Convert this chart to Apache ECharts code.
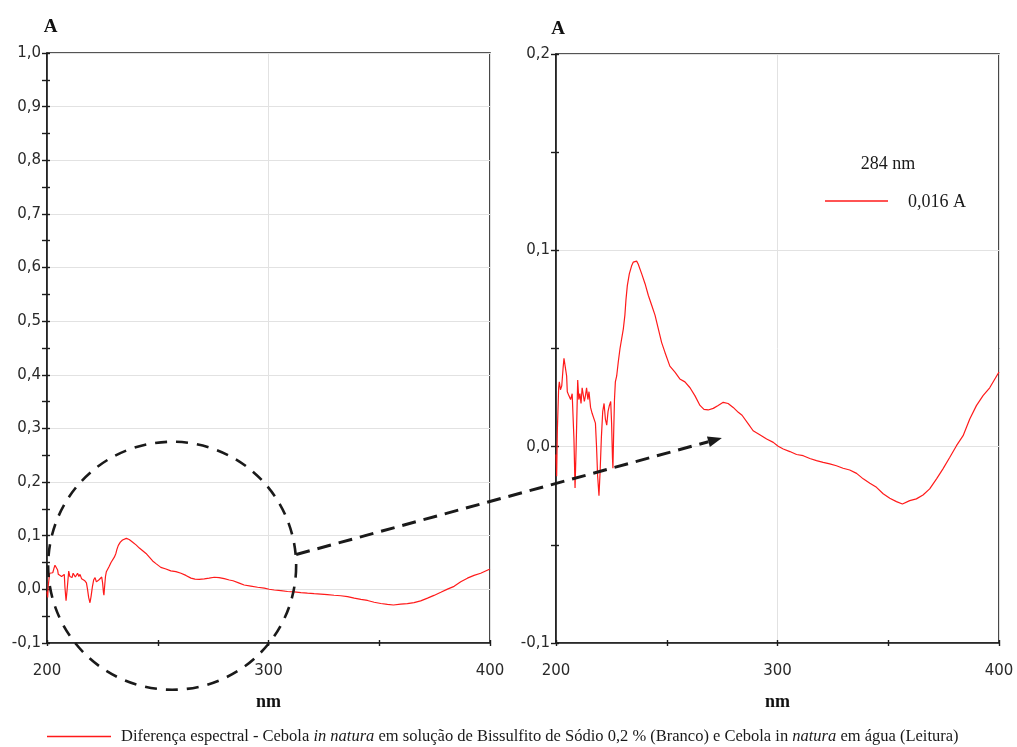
<!DOCTYPE html>
<html>
<head>
<meta charset="utf-8">
<title>Diferença espectral - Cebola</title>
<script src="https://cdn.jsdelivr.net/npm/echarts@6/dist/echarts.min.js"></script>
<style>
  html, body { margin: 0; padding: 0; background: #ffffff; }
  #chart { width: 1017px; height: 747px; }
</style>
</head>
<body>
<div id="chart"></div>
<script>
// Spectral difference curve (wavelength in nm, absorbance in A)
const wavelengthNm = [
  200.0, 200.3, 200.6, 201.2, 201.5, 202.0, 202.6, 203.2, 203.6, 204.3,
  204.8, 205.1, 205.8, 206.6, 207.3, 207.8, 208.1, 208.6, 209.1, 209.8,
  210.3, 210.8, 211.3, 211.8, 212.3, 212.8, 213.3, 213.8, 214.4, 214.9,
  215.6, 216.3, 217.1, 217.8, 218.3, 218.8, 219.4, 219.9, 220.5, 221.1,
  221.7, 222.3, 222.9, 223.5, 224.1, 224.7, 225.1, 225.5, 225.7, 226.0,
  226.4, 226.8, 227.4, 228.1, 228.9, 229.6, 230.4, 231.1, 231.6, 232.2,
  233.1, 234.1, 234.9, 235.8, 236.4, 237.1, 238.7, 240.2, 241.7, 243.2,
  244.7, 246.2, 247.7, 249.2, 251.4, 253.7, 255.9, 258.2, 260.5, 262.7,
  265.0, 266.8, 268.7, 271.0, 273.2, 275.5, 277.7, 280.0, 282.3, 284.0,
  286.8, 289.0, 292.0, 295.1, 298.1, 300.3, 302.6, 305.6, 308.6, 311.6,
  314.6, 317.6, 320.6, 323.6, 326.6, 329.6, 332.6, 335.7, 338.7, 341.7,
  344.7, 347.7, 350.7, 353.7, 356.4, 359.7, 362.7, 365.7, 368.7, 371.8,
  374.7, 377.8, 380.8, 383.8, 386.8, 389.8, 392.8, 395.8, 400.0
];
const absorbance = [
  -0.004, -0.015, 0.008, 0.030, 0.033, 0.029, 0.031, 0.040, 0.045, 0.044,
  0.036, 0.028, 0.026, 0.024, 0.027, 0.028, 0.004, -0.021, 0.000, 0.034,
  0.024, 0.027, 0.022, 0.030, 0.029, 0.023, 0.026, 0.030, 0.024, 0.028,
  0.020, 0.017, 0.016, 0.012, 0.000, -0.015, -0.025, -0.013, 0.005, 0.018,
  0.022, 0.014, 0.011, 0.018, 0.021, 0.023, 0.012, -0.006, -0.011, 0.005,
  0.024, 0.033, 0.036, 0.043, 0.050, 0.051, 0.060, 0.067, 0.075, 0.082,
  0.088, 0.092, 0.094, 0.095, 0.0945, 0.093, 0.088, 0.083, 0.077, 0.072,
  0.067, 0.060, 0.053, 0.048, 0.041, 0.038, 0.0345, 0.033, 0.030, 0.026,
  0.021, 0.019, 0.0187, 0.0195, 0.021, 0.0226, 0.022, 0.020, 0.0175, 0.016,
  0.0116, 0.0081, 0.0061, 0.0039, 0.0022, 0.0002, -0.0012, -0.0025, -0.004, -0.0046,
  -0.006, -0.0071, -0.008, -0.0088, -0.0097, -0.011, -0.0119, -0.0136, -0.0164, -0.0186,
  -0.0207, -0.024, -0.0263, -0.028, -0.0292, -0.0275, -0.0266, -0.0246, -0.0215, -0.0164,
  -0.0113, -0.0054, 0.0005, 0.0056, 0.0141, 0.0209, 0.026, 0.030, 0.038
];

// Axis ranges
const wavelengthRange = [200, 400];
const fullAbsRange = [-0.1, 1.0];
const zoomAbsRange = [-0.1, 0.2];

// Wavelength highlighted in the zoomed panel
const markedWavelength = 284;

const seriesName = 'Diferença espectral - Cebola in natura em solução de Bissulfito de Sódio 0,2 % (Branco) e Cebola in natura em água (Leitura)';

const points = wavelengthNm.map((x, i) => [x, absorbance[i]]);

const AXIS_COLOR = '#1c1c1c';
const LABEL_FONT = 'DejaVu Sans';
const SERIF = '"Liberation Serif", "Times New Roman", serif';

const commaDecimal = (v, digits) => v.toFixed(digits).replace('.', ',');

function mainAxis(dim, gridIndex, range, interval, extra) {
  const isX = dim === 'x';
  return Object.assign({
    type: 'value',
    gridIndex: gridIndex,
    position: isX ? 'bottom' : 'left',
    min: range[0],
    max: range[1],
    interval: interval,
    axisLine: { show: true, onZero: false, lineStyle: { color: AXIS_COLOR, width: 1.6 } },
    axisTick: { show: true, inside: false, length: isX ? 3 : 5, lineStyle: { color: AXIS_COLOR, width: 1.4 } },
    minorTick: { show: true, splitNumber: 2, length: isX ? 3 : 5, lineStyle: { color: AXIS_COLOR, width: 1.4 } },
    splitLine: { show: true, lineStyle: { color: '#e2e2e2', width: 1 } },
    axisLabel: {
      show: true,
      fontFamily: LABEL_FONT,
      fontSize: 15,
      color: '#2a2a2a',
      margin: isX ? 21 : 6,
      formatter: isX ? (v => String(Math.round(v))) : (v => commaDecimal(v, 1))
    }
  }, extra || {});
}

// Companion axis that only draws the inward half of each tick mark
function innerTickAxis(dim, gridIndex, range, interval) {
  const isX = dim === 'x';
  return {
    type: 'value',
    gridIndex: gridIndex,
    position: isX ? 'bottom' : 'left',
    min: range[0],
    max: range[1],
    interval: interval,
    axisLine: { show: false, onZero: false },
    axisTick: { show: true, inside: true, length: 3, lineStyle: { color: AXIS_COLOR, width: 1.4 } },
    minorTick: { show: true, splitNumber: 2, length: 3, lineStyle: { color: AXIS_COLOR, width: 1.4 } },
    splitLine: { show: false },
    axisLabel: { show: false }
  };
}

const xName = {
  name: 'nm',
  nameLocation: 'middle',
  nameGap: 50,
  nameTextStyle: { fontFamily: SERIF, fontWeight: 'bold', fontSize: 18, color: '#111' }
};
const yName = (shift, gap) => ({
  name: 'A',
  nameLocation: 'end',
  nameGap: gap,
  nameTextStyle: { fontFamily: SERIF, fontWeight: 'bold', fontSize: 19, color: '#111', padding: [0, 0, 0, shift] }
});

const chart = echarts.init(document.getElementById('chart'), null, { renderer: 'canvas' });

const option = {
  backgroundColor: '#ffffff',
  animation: false,
  grid: [
    { left: 47, top: 53, width: 443, height: 590, show: true, borderColor: AXIS_COLOR, borderWidth: 1.6, backgroundColor: 'transparent' },
    { left: 556, top: 54, width: 443, height: 589, show: true, borderColor: AXIS_COLOR, borderWidth: 1.6, backgroundColor: 'transparent' }
  ],
  xAxis: [
    mainAxis('x', 0, wavelengthRange, 100, xName),
    mainAxis('x', 1, wavelengthRange, 100, xName),
    innerTickAxis('x', 0, wavelengthRange, 100),
    innerTickAxis('x', 1, wavelengthRange, 100)
  ],
  yAxis: [
    mainAxis('y', 0, fullAbsRange, 0.1, yName(7, 16)),
    mainAxis('y', 1, zoomAbsRange, 0.1, yName(4, 15)),
    innerTickAxis('y', 0, fullAbsRange, 0.1),
    innerTickAxis('y', 1, zoomAbsRange, 0.1)
  ],
  legend: {
    data: [seriesName],
    left: 47,
    top: 728,
    padding: 0,
    icon: 'rect',
    itemWidth: 64,
    itemHeight: 1.6,
    selectedMode: false,
    textStyle: {
      fontFamily: SERIF,
      fontSize: 16.5,
      color: '#1a1a1a',
      rich: {
        gap: { width: 5 },
        i: { fontFamily: SERIF, fontSize: 16.5, fontStyle: 'italic', color: '#1a1a1a' },
        n: { fontFamily: SERIF, fontSize: 16.5, color: '#1a1a1a' }
      }
    },
    formatter: () =>
      '{gap|}{n|Diferença espectral - Cebola }{i|in natura}{n| em solução de Bissulfito de Sódio 0,2 % (Branco) e Cebola in }{i|natura}{n| em água (Leitura)}'
  },
  series: [
    {
      name: seriesName,
      type: 'line',
      xAxisIndex: 0,
      yAxisIndex: 0,
      data: points,
      showSymbol: false,
      symbol: 'none',
      lineStyle: { color: '#ff1a1a', width: 1.2 },
      itemStyle: { color: '#ff1a1a' },
      z: 3
    },
    {
      name: seriesName,
      type: 'line',
      xAxisIndex: 1,
      yAxisIndex: 1,
      data: points,
      showSymbol: false,
      symbol: 'none',
      lineStyle: { color: '#ff1a1a', width: 1.2 },
      itemStyle: { color: '#ff1a1a' },
      z: 3
    }
  ]
};

chart.setOption(option);

// Annotations: dashed circle around the 200–300 nm region of the full spectrum,
// a dashed arrow pointing into the zoomed panel, and the 284 nm readout.
const circleCenter = chart.convertToPixel({ gridIndex: 0 }, [256.5, 0.044]);
const circleRadius = 124;
const arrowStart = chart.convertToPixel({ gridIndex: 0 }, [312.5, 0.065]);
const arrowTip = chart.convertToPixel({ gridIndex: 1 }, [274.9, 0.0044]);

const dx = arrowTip[0] - arrowStart[0];
const dy = arrowTip[1] - arrowStart[1];
const len = Math.hypot(dx, dy);
const ux = dx / len, uy = dy / len;
const headLen = 14, headHalf = 5.5;
const baseX = arrowTip[0] - ux * headLen, baseY = arrowTip[1] - uy * headLen;

const markedIndex = wavelengthNm.indexOf(markedWavelength);
const markedLabel = commaDecimal(absorbance[markedIndex], 3) + ' A';

const zoomGridRight = chart.convertToPixel({ gridIndex: 1 }, [400, 0.2]);
const readoutX = zoomGridRight[0] - 174;
const readoutY = zoomGridRight[1];

chart.setOption({
  graphic: [
    {
      type: 'circle',
      shape: { cx: circleCenter[0], cy: circleCenter[1], r: circleRadius },
      style: { fill: 'none', stroke: '#1a1a1a', lineWidth: 2.6, lineDash: [12, 9] },
      z: 100,
      silent: true
    },
    {
      type: 'line',
      shape: { x1: arrowStart[0], y1: arrowStart[1], x2: baseX, y2: baseY },
      style: { stroke: '#1a1a1a', lineWidth: 3, lineDash: [14, 8] },
      z: 100,
      silent: true
    },
    {
      type: 'polygon',
      shape: {
        points: [
          [arrowTip[0], arrowTip[1]],
          [baseX - uy * headHalf, baseY + ux * headHalf],
          [baseX + uy * headHalf, baseY - ux * headHalf]
        ]
      },
      style: { fill: '#1a1a1a', stroke: 'none' },
      z: 100,
      silent: true
    },
    {
      type: 'text',
      x: readoutX + 63,
      y: readoutY + 110,
      style: {
        text: markedWavelength + ' nm',
        fontFamily: SERIF,
        fontSize: 18,
        fill: '#1a1a1a',
        align: 'center',
        verticalAlign: 'middle'
      },
      z: 100
    },
    {
      type: 'line',
      shape: { x1: readoutX, y1: readoutY + 147, x2: readoutX + 63, y2: readoutY + 147 },
      style: { stroke: '#ff1a1a', lineWidth: 1.4 },
      z: 100
    },
    {
      type: 'text',
      x: readoutX + 83,
      y: readoutY + 148,
      style: {
        text: markedLabel,
        fontFamily: SERIF,
        fontSize: 18,
        fill: '#1a1a1a',
        align: 'left',
        verticalAlign: 'middle'
      },
      z: 100
    }
  ]
});
</script>
</body>
</html>
